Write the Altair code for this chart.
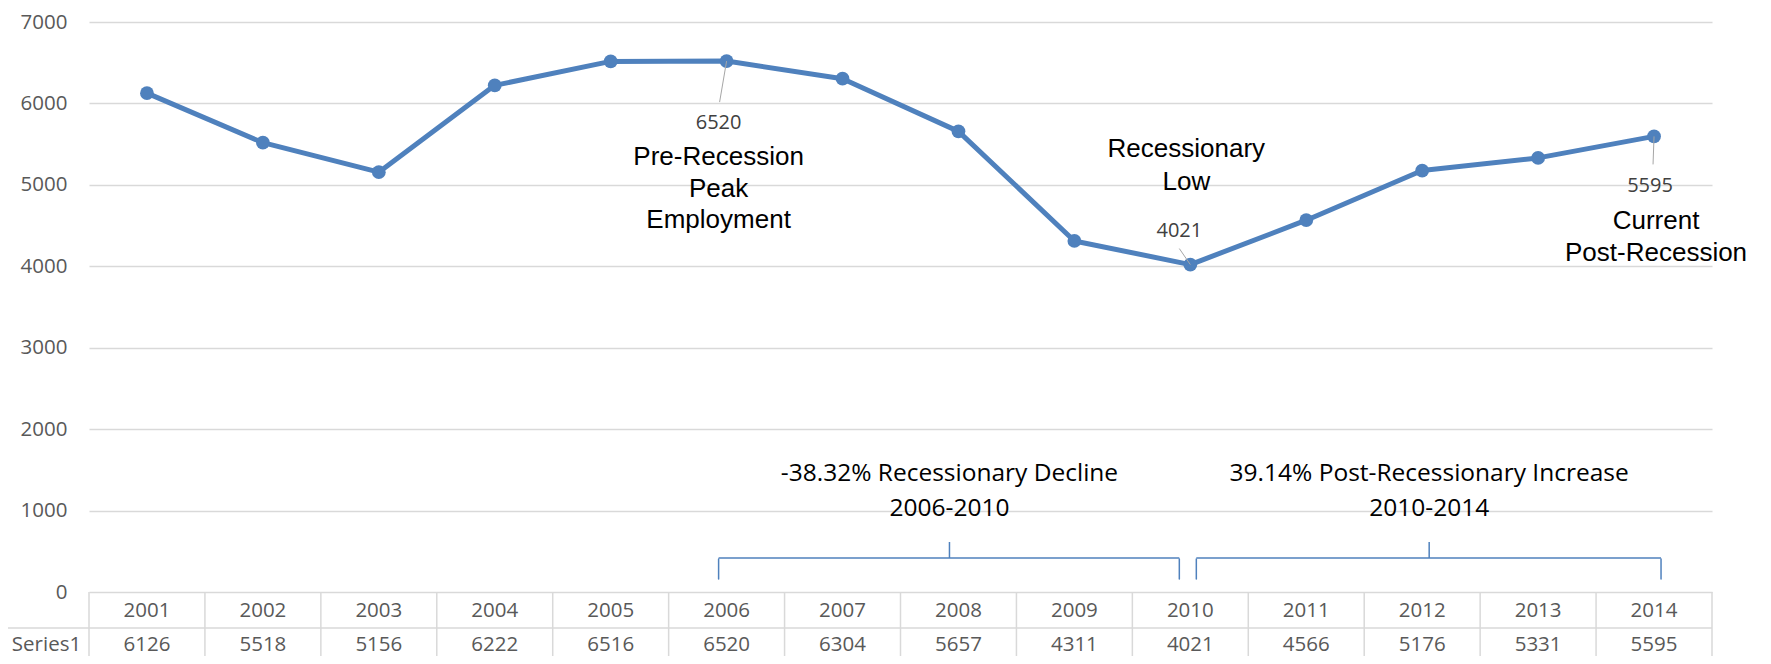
import altair as alt
import pandas as pd

# ---------------- data ----------------
years = [2001, 2002, 2003, 2004, 2005, 2006, 2007, 2008, 2009, 2010, 2011, 2012, 2013, 2014]
values = [6126, 5518, 5156, 6222, 6516, 6520, 6304, 5657, 4311, 4021, 4566, 5176, 5331, 5595]
y_ticks = [0, 1000, 2000, 3000, 4000, 5000, 6000, 7000]
series_name = "Series1"

peak_year = 2006
low_year = 2010
current_year = 2014
peak_text = ["Pre-Recession", "Peak", "Employment"]
low_text = ["Recessionary", "Low"]
current_text = ["Current", "Post-Recession"]

decline_span = (2006, 2010)
increase_span = (2010, 2014)
decline_text = ["-38.32% Recessionary Decline", "2006-2010"]
increase_text = ["39.14% Post-Recessionary Increase", "2010-2014"]

# ---------------- styling ----------------
BLUE = "#4F81BD"
GRID = "#D9D9D9"
AXIS_TXT = "#595959"
LABEL_TXT = "#404040"
LEADER = "#A6A6A6"
NUM_FONT = "Open Sans"
ANN_FONT = "Liberation Sans"

W, H = 1623, 570

df = pd.DataFrame({
    "year": years,
    "value": values,
    "label": [str(v) for v in values],
    "year_label": [str(y) for y in years],
})

x_scale = alt.Scale(domain=[years[0] - 0.5, years[-1] + 0.5], nice=False, zero=False)
y_scale = alt.Scale(domain=[y_ticks[0], y_ticks[-1]], nice=False, zero=True)

X = alt.X("year:Q", scale=x_scale, axis=None)
Y = alt.Y(
    "value:Q", scale=y_scale, title=None,
    axis=alt.Axis(values=y_ticks, format="d", grid=True, gridColor=GRID, gridWidth=1.5,
                  domain=False, ticks=False, labelPadding=22,
                  labelFont=NUM_FONT, labelFontSize=20.5, labelColor=AXIS_TXT),
)

base = alt.Chart(df)

line = base.mark_line(color=BLUE, strokeWidth=5, strokeJoin="round").encode(x=X, y=Y)
points = base.mark_circle(color=BLUE, size=190, opacity=1).encode(x=X, y=Y)

# ---------------- data table below the plot ----------------
bounds = pd.DataFrame({"b": [years[0] - 0.5 + i for i in range(len(years) + 1)]})
one = pd.DataFrame({"k": [0]})

table_vlines = alt.Chart(bounds).mark_rule(color=GRID, strokeWidth=1.5).encode(
    x=alt.X("b:Q", scale=x_scale, axis=None), y=alt.value(H), y2=alt.value(H + 80)
)
table_hline = alt.Chart(one).mark_rule(color=GRID, strokeWidth=1.5).encode(
    x=alt.value(-82), x2=alt.value(W), y=alt.value(H + 36)
)
table_left = alt.Chart(one).mark_rule(color=GRID, strokeWidth=1.5).encode(
    x=alt.value(-82), y=alt.value(H + 36), y2=alt.value(H + 80)
)
year_labels = base.mark_text(font=NUM_FONT, fontSize=20.5, color=AXIS_TXT, baseline="middle").encode(
    x=X, y=alt.value(H + 18.5), text="year_label:N"
)
value_labels = base.mark_text(font=NUM_FONT, fontSize=20.5, color=AXIS_TXT, baseline="middle").encode(
    x=X, y=alt.value(H + 53), text="label:N"
)
series_label = alt.Chart(one).mark_text(font=NUM_FONT, fontSize=20.5, color=AXIS_TXT, baseline="middle").encode(
    x=alt.value(-42.5), y=alt.value(H + 53), text=alt.value(series_name)
)

# ---------------- point annotations ----------------
def point_annotation(year, lab_dx, lab_dy, lead_dx, lead_dy, text_lines, txt_dx, txt_dy, lh):
    d = base.transform_filter(alt.datum.year == year)
    leader = d.mark_rule(color=LEADER, strokeWidth=1, x2Offset=lead_dx, y2Offset=lead_dy).encode(
        x=X, y=Y, x2=alt.X2("year:Q"), y2=alt.Y2("value:Q")
    )
    lab = d.mark_text(font=NUM_FONT, fontSize=20, color=LABEL_TXT, baseline="middle",
                      dx=lab_dx, dy=lab_dy).encode(x=X, y=Y, text="label:N")
    txt = d.mark_text(font=ANN_FONT, fontSize=26, color="#000000", baseline="alphabetic",
                      align="center", lineHeight=lh, dx=txt_dx, dy=txt_dy).encode(
        x=X, y=Y, text=alt.value(text_lines)
    )
    return [leader, lab, txt]

ann_peak = point_annotation(peak_year, -8, 62, -7, 41, peak_text, -8, 104, 31.5)
ann_low = point_annotation(low_year, -11, -34, -11, -16, low_text, -4, -108, 33)
ann_cur = point_annotation(current_year, -4, 50, -1, 28, current_text, 2, 93, 32)

# ---------------- range brackets ----------------
def bracket(span, off_s, off_e, off_m, text_lines):
    d = alt.Chart(pd.DataFrame({"start": [span[0]], "end": [span[1]]})).transform_calculate(
        mid="(datum.start + datum.end) / 2"
    )
    xs = alt.X("start:Q", scale=x_scale, axis=None)
    xe = alt.X("end:Q", scale=x_scale, axis=None)
    xm = alt.X("mid:Q", scale=x_scale, axis=None)
    horiz = d.mark_rule(color=BLUE, strokeWidth=1.5, xOffset=off_s, x2Offset=off_e).encode(
        x=xs, x2=alt.X2("end:Q"), y=alt.value(536)
    )
    left = d.mark_rule(color=BLUE, strokeWidth=1.5, xOffset=off_s, strokeCap="round").encode(
        x=xs, y=alt.value(537), y2=alt.value(557)
    )
    right = d.mark_rule(color=BLUE, strokeWidth=1.5, xOffset=off_e, strokeCap="round").encode(
        x=xe, y=alt.value(537), y2=alt.value(557)
    )
    spike = d.mark_rule(color=BLUE, strokeWidth=1.5, xOffset=off_m).encode(
        x=xm, y=alt.value(520), y2=alt.value(536)
    )
    txt = d.mark_text(font=NUM_FONT, fontSize=24.5, color="#000000", baseline="alphabetic",
                      align="center", lineHeight=35, dx=off_m).encode(
        x=xm, y=alt.value(459), text=alt.value(text_lines)
    )
    return [horiz, left, right, spike, txt]

br_decline = bracket(decline_span, -8, -11, -9, decline_text)
br_increase = bracket(increase_span, 6, 7, 7, increase_text)

layers = ([table_vlines, table_hline, table_left, year_labels, value_labels, series_label,
           line, points] + ann_peak + ann_low + ann_cur + br_decline + br_increase)

chart = alt.layer(*layers).properties(
    width=W, height=H,
    padding={"left": 81, "top": 14, "right": 50, "bottom": 64},
    autosize=alt.AutoSizeParams(type="none"),
    background="#FFFFFF",
).configure_view(stroke=None)

chart.save("out.html", embed_options={"renderer": "svg", "actions": False})
